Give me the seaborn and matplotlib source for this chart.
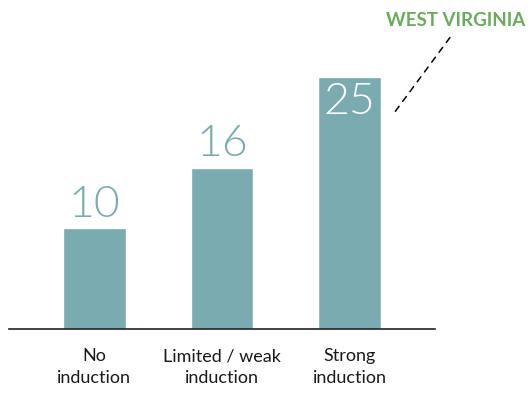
import matplotlib
matplotlib.use("Agg")
import matplotlib.pyplot as plt
import seaborn as sns

# data
categories = ["No\ninduction", "Limited / weak\ninduction", "Strong\ninduction"]
counts = [10, 16, 25]
highlight_label = "WEST VIRGINIA"

bar_color = "#7aabb0"
green = "#6aac5a"

sns.set_theme(style="white")
plt.rcParams["font.family"] = ["Lato", "DejaVu Sans"]

fig = plt.figure(figsize=(5.29, 3.93), dpi=100)
ax = fig.add_axes([9 / 529, 64 / 393, 426 / 529, 329 / 393])

sns.barplot(x=categories, y=counts, color=bar_color, width=0.49,
            saturation=1, ax=ax)

ax.set_xlim(-0.67, 2.67)
ax.set_ylim(0, 32.6)
sns.despine(ax=ax, left=True, top=True, right=True)
ax.spines["bottom"].set_color("#222222")
ax.spines["bottom"].set_linewidth(1.2)
ax.set_yticks([])
ax.set_xlabel("")
ax.set_ylabel("")
ax.tick_params(axis="x", length=0, pad=14, labelsize=13, labelcolor="#1a1a1a")
for lbl in ax.get_xticklabels():
    lbl.set_linespacing(1.4)

# value labels
for i, v in enumerate(counts):
    if i == len(counts) - 1:
        ax.text(i, v - 0.6, str(v), ha="center", va="top", color="white",
                fontsize=32, fontweight=300)
    else:
        ax.text(i, v + 0.3, str(v), ha="center", va="bottom", color=bar_color,
                fontsize=32, fontweight=300)

# callout for the highlighted state
last = len(counts) - 1
ax.annotate("", xy=(last + 0.32, counts[last] - 4.1), xytext=(last + 0.8, counts[last] + 4.1),
            arrowprops=dict(arrowstyle="-", color="black", linestyle=(0, (4, 4)), lw=1.1),
            annotation_clip=False)
ax.text(last + 0.83, counts[last] + 5.6, highlight_label, ha="center", va="center",
        color=green, fontsize=13.5, fontweight="bold", clip_on=False)

fig.savefig("out.png", dpi=100)
